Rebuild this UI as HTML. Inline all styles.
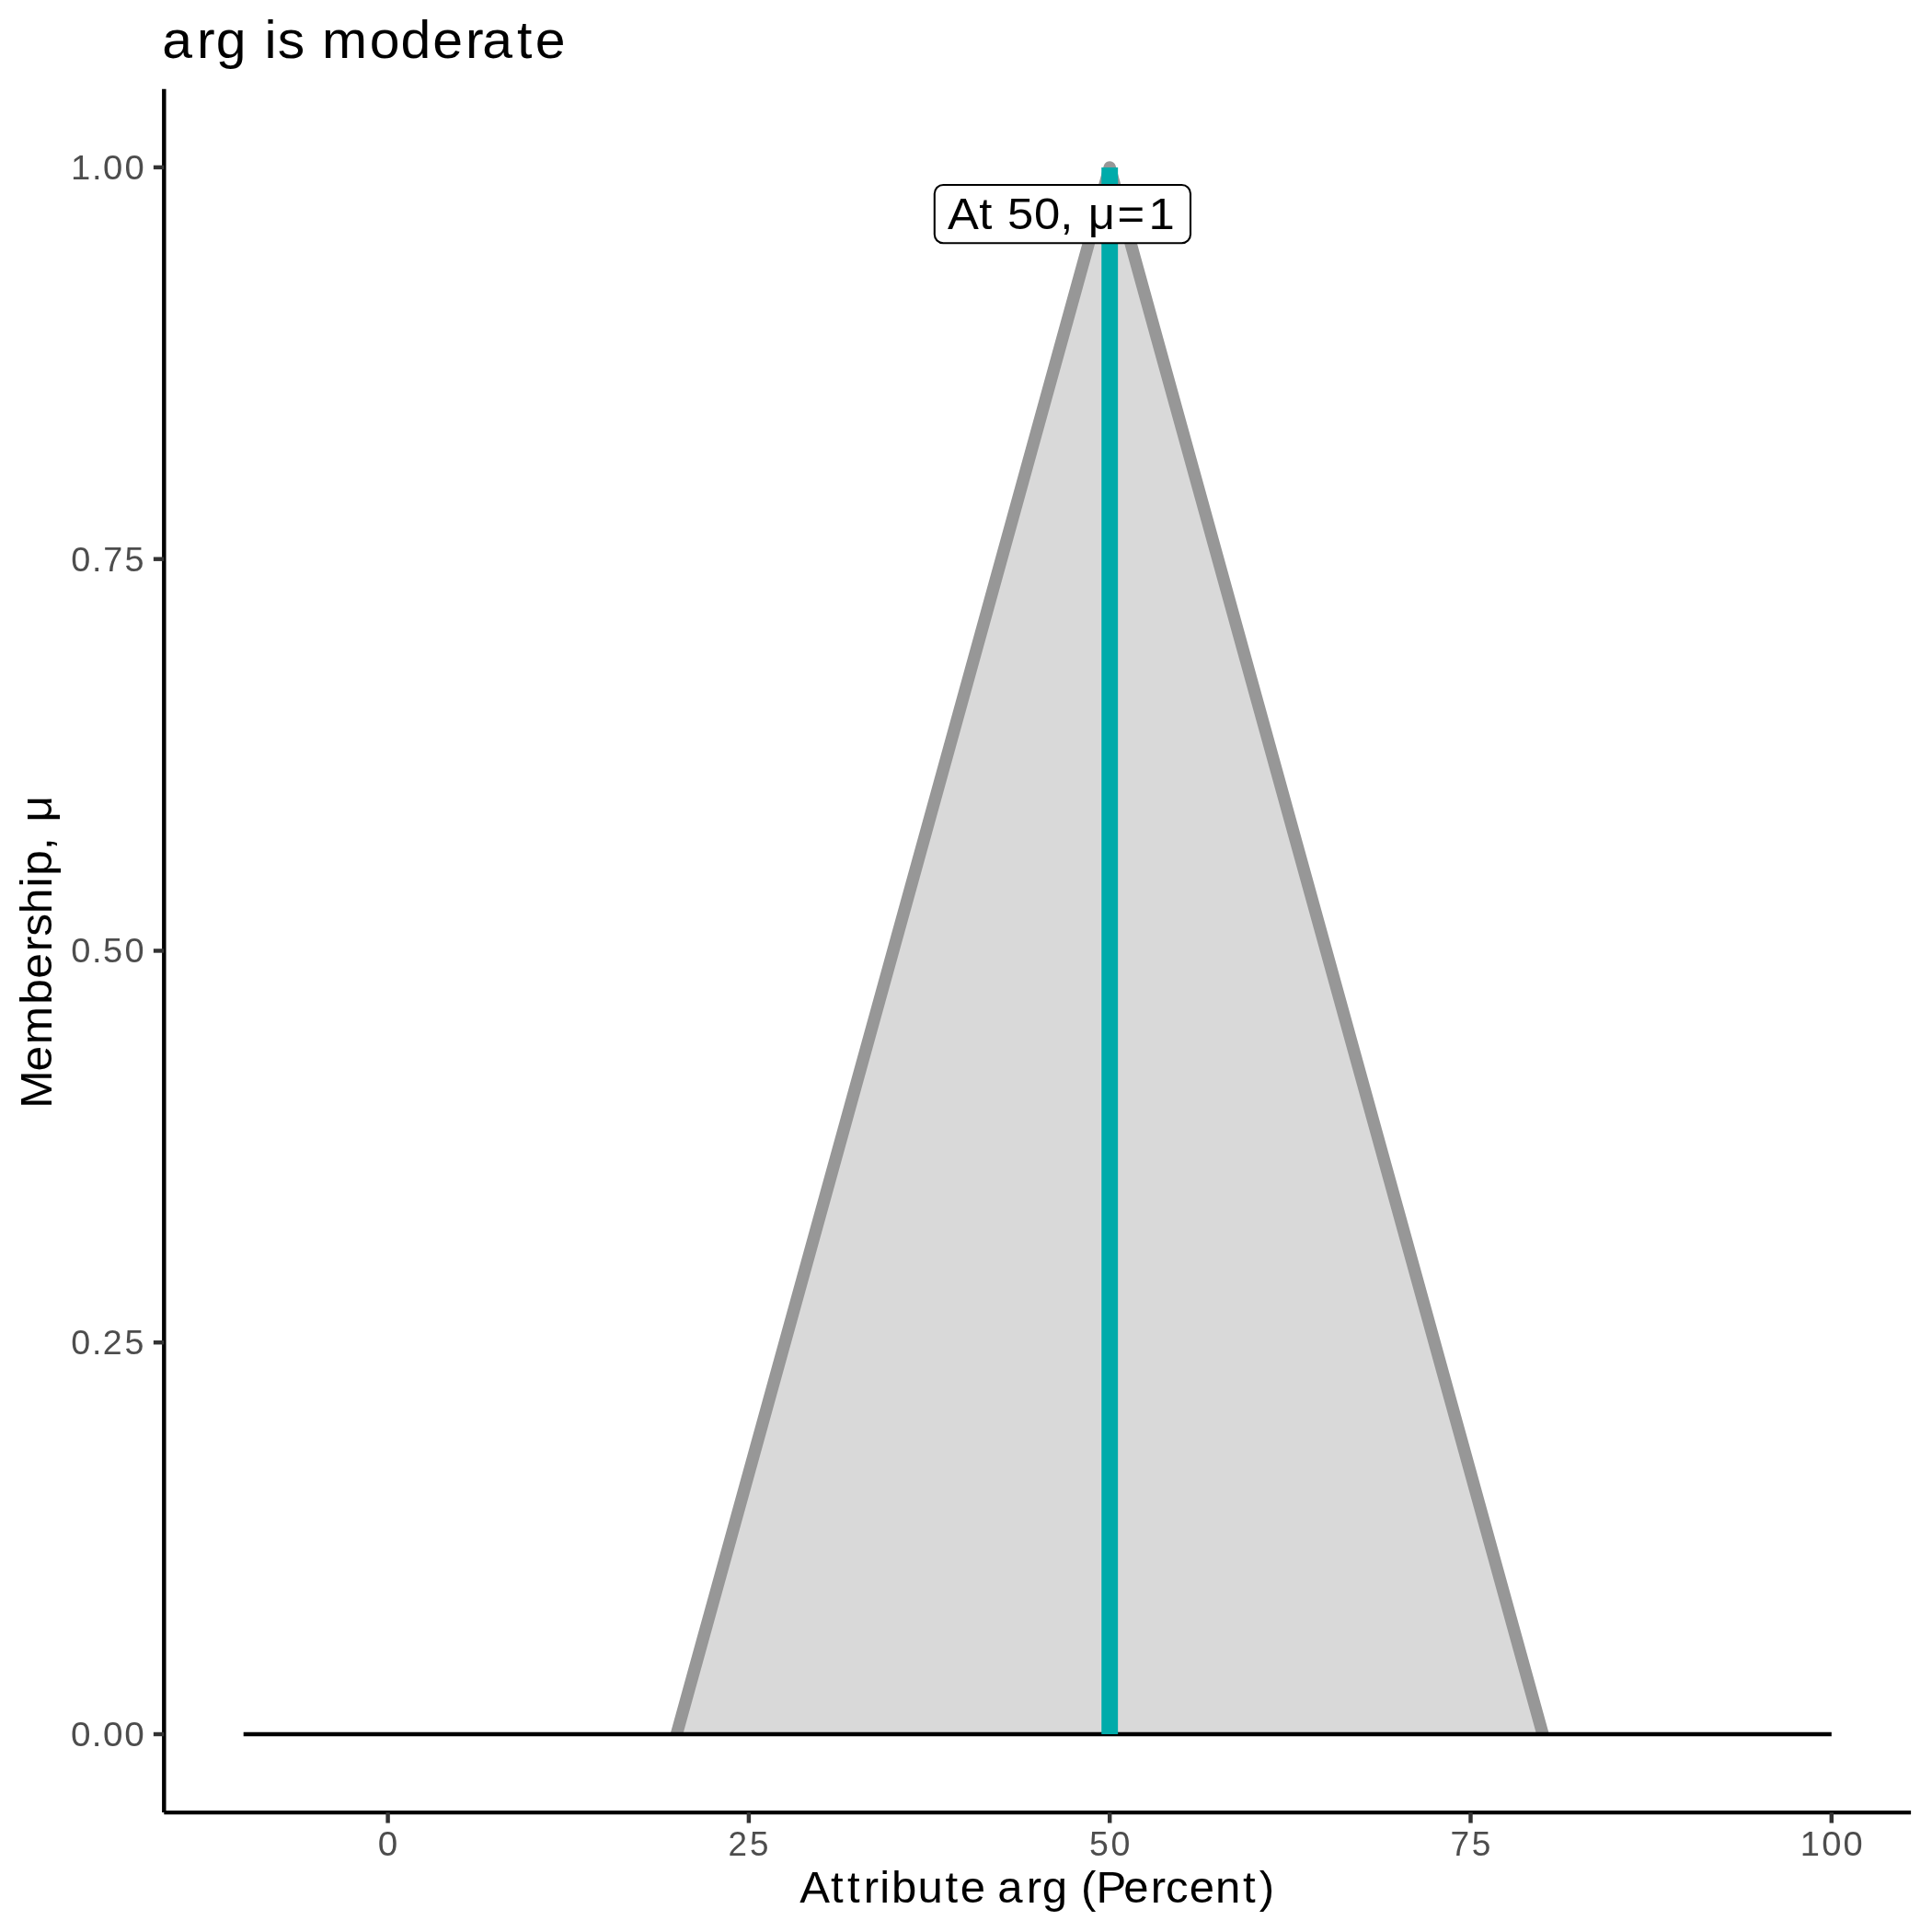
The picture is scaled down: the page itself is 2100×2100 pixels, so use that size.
<!DOCTYPE html>
<html><head><meta charset="utf-8"><title>arg is moderate</title>
<style>
html,body{margin:0;padding:0;background:#fff;}
svg{display:block;will-change:transform;}
text{font-family:"Liberation Sans",sans-serif;}
</style></head>
<body>
<svg width="2100" height="2100" viewBox="0 0 2100 2100">
<rect width="2100" height="2100" fill="#fff"/>
<polygon points="735.44,1885.00 1206.20,181.90 1676.96,1885.00" fill="#D9D9D9"/>
<polyline points="735.44,1885.00 1206.20,181.90 1676.96,1885.00" fill="none" stroke="#979797" stroke-width="13.34" stroke-linejoin="round" stroke-linecap="butt"/>
<line x1="264.68" y1="1885.00" x2="1990.80" y2="1885.00" stroke="#000" stroke-width="4.3"/>
<line x1="1206.20" y1="1885.00" x2="1206.20" y2="181.90" stroke="#00ABAA" stroke-width="17.9"/>
<rect x="1015.8" y="201.0" width="278.20" height="63.20" rx="9.5" ry="9.5" fill="#fff" stroke="#000" stroke-width="2.1"/>
<text transform="scale(1.0651,1)" x="967.11 999.22 1014.33 1028.02 1055.32 1081.87 1095.71 1110.52 1140.35 1172.16" y="248.90" font-size="47.7" fill="#000">At 50, μ=1</text>
<line x1="178.3" y1="96.75" x2="178.3" y2="1970.1" stroke="#000" stroke-width="4.45"/>
<line x1="178.3" y1="1970.1" x2="2077.11" y2="1970.1" stroke="#000" stroke-width="4.45"/>
<line x1="166.84" y1="1885.00" x2="178.3" y2="1885.00" stroke="#333" stroke-width="4.45"/>
<line x1="166.84" y1="1459.22" x2="178.3" y2="1459.22" stroke="#333" stroke-width="4.45"/>
<line x1="166.84" y1="1033.45" x2="178.3" y2="1033.45" stroke="#333" stroke-width="4.45"/>
<line x1="166.84" y1="607.68" x2="178.3" y2="607.68" stroke="#333" stroke-width="4.45"/>
<line x1="166.84" y1="181.90" x2="178.3" y2="181.90" stroke="#333" stroke-width="4.45"/>
<line x1="421.60" y1="1970.1" x2="421.60" y2="1981.56" stroke="#333" stroke-width="4.45"/>
<line x1="813.90" y1="1970.1" x2="813.90" y2="1981.56" stroke="#333" stroke-width="4.45"/>
<line x1="1206.20" y1="1970.1" x2="1206.20" y2="1981.56" stroke="#333" stroke-width="4.45"/>
<line x1="1598.50" y1="1970.1" x2="1598.50" y2="1981.56" stroke="#333" stroke-width="4.45"/>
<line x1="1990.80" y1="1970.1" x2="1990.80" y2="1981.56" stroke="#333" stroke-width="4.45"/>
<text transform="scale(1.0408,1)" x="73.96 95.93 107.57 129.99" y="1897.90" font-size="37.2" fill="#4D4D4D">0.00</text>
<text transform="scale(1.0111,1)" x="76.44 98.91 110.57 133.98" y="1472.12" font-size="37.2" fill="#4D4D4D">0.25</text>
<text transform="scale(1.0227,1)" x="75.45 97.73 109.53 132.48" y="1046.35" font-size="37.2" fill="#4D4D4D">0.50</text>
<text transform="scale(1.0156,1)" x="76.05 98.45 110.43 133.34" y="620.58" font-size="37.2" fill="#4D4D4D">0.75</text>
<text transform="scale(1.0273,1)" x="74.88 97.26 109.12 131.83" y="194.80" font-size="37.2" fill="#4D4D4D">1.00</text>
<text transform="scale(1.0391,1)" x="395.38" y="2017.00" font-size="37.2" fill="#4D4D4D">0</text>
<text transform="scale(0.9909,1)" x="798.74 822.62" y="2017.00" font-size="37.2" fill="#4D4D4D">25</text>
<text transform="scale(1.0100,1)" x="1172.19 1195.43" y="2017.00" font-size="37.2" fill="#4D4D4D">50</text>
<text transform="scale(0.9982,1)" x="1579.28 1602.59" y="2017.00" font-size="37.2" fill="#4D4D4D">75</text>
<text transform="scale(1.0246,1)" x="1909.67 1932.62 1955.39" y="2017.00" font-size="37.2" fill="#4D4D4D">100</text>
<text transform="scale(1.0334,1)" x="170.56 207.14 227.26 260.28 278.24 291.90 319.61 338.77 388.66 421.45 455.07 489.58 507.40 543.91 562.99" y="62.80" font-size="57" fill="#000">arg is moderate</text>
<text transform="scale(1.0276,1)" x="845.84 878.82 896.15 913.52 930.60 943.03 970.71 1000.01 1015.83 1042.63 1055.24 1085.71 1102.43 1130.00 1143.50 1159.40 1188.35 1217.09 1232.99 1258.02 1285.63 1314.74 1332.04" y="2068.00" font-size="47.8" fill="#000">Attribute arg (Percent)</text>
<text transform="translate(55.90,0) rotate(-90) scale(1.0387,1)" x="-1159.99 -1121.08 -1093.02 -1051.20 -1024.12 -995.72 -979.87 -956.33 -928.48 -916.34 -889.62 -875.61 -860.20" y="0" font-size="47.8" fill="#000">Membership, μ</text>
</svg>
</body></html>
